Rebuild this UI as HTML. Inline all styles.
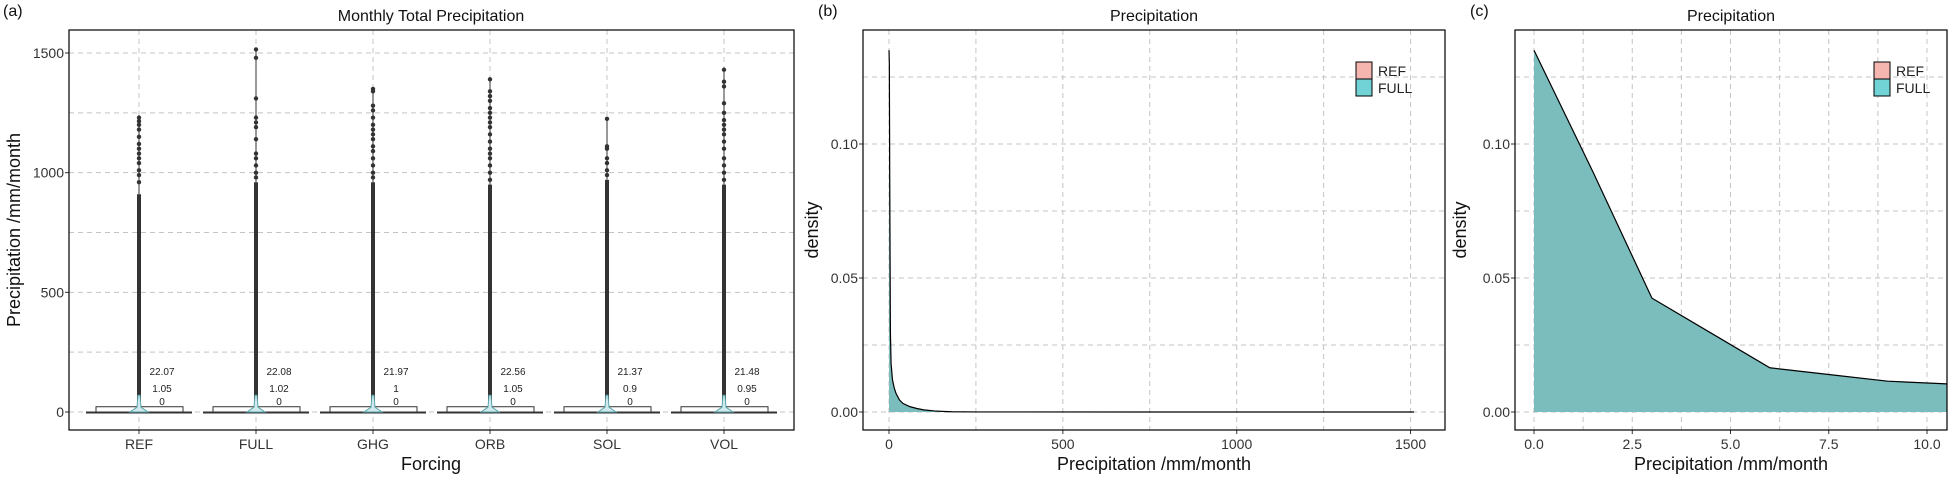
<!DOCTYPE html>
<html><head><meta charset="utf-8"><style>
html,body{margin:0;padding:0;background:#fff;}
svg{display:block;font-family:"Liberation Sans",sans-serif;}
</style></head><body>
<svg id="s" width="1950" height="480" viewBox="0 0 1950 480" xmlns="http://www.w3.org/2000/svg"></svg>
<script>
// ---- Panel (a) data ----
const forcings = ["REF","FULL","GHG","ORB","SOL","VOL"];
const meanVals = ["22.07","22.08","21.97","22.56","21.37","21.48"];
const medianVals = ["1.05","1.02","1","1.05","0.9","0.95"];
const minVals = ["0","0","0","0","0","0"];
const q3Vals = [22,22,22,22,22,22];
const denseTop = [910,960,960,950,970,950];
const outlierMax = [1230,1515,1350,1390,1225,1430];
const outliersREF = [960,990,1010,1040,1060,1080,1100,1120,1150,1180,1200,1215,1230];
const outliersFULL = [980,1000,1030,1060,1080,1140,1190,1210,1230,1310,1480,1515];
const outliersGHG = [980,1000,1030,1060,1090,1110,1140,1160,1180,1200,1230,1260,1280,1340,1350];
const outliersORB = [970,1000,1030,1060,1080,1100,1130,1160,1190,1210,1230,1250,1270,1300,1320,1340,1390];
const outliersSOL = [990,1010,1040,1060,1100,1110,1225];
const outliersVOL = [970,1000,1030,1060,1100,1130,1160,1180,1200,1220,1250,1290,1360,1380,1430];
const aTicks = [0,500,1000,1500];
// ---- Panel (b) data ----
const bX = [0,1,2,4,6,10,15,20,30,40,60,80,100,130,160,180,250,1510];
const bY = [0.135,0.13,0.09,0.03,0.018,0.012,0.009,0.007,0.0045,0.0032,0.002,0.0013,0.0008,0.0004,0.0002,0.0001,0.00002,0];
const bXTicks = [0,500,1000,1500];
const densTicks = [0,0.05,0.10];
const densTickLabels = ["0.00","0.05","0.10"];
// ---- Panel (c) data ----
const cX = [0,1.5,3,4.5,6,7.5,9,10.5];
const cY = [0.135,0.0896,0.0425,0.0295,0.0165,0.014,0.0115,0.0105];
const cXTicks = [0,2.5,5,7.5,10];
const cXTickLabels = ["0.0","2.5","5.0","7.5","10.0"];
const legendLabels = ["REF","FULL"];
const legendColors = ["#f4b6ae","#71d3d6"];

const NS="http://www.w3.org/2000/svg";
const svg=document.getElementById('s');
function el(tag,attrs,parent,text){const e=document.createElementNS(NS,tag);for(const k in attrs)e.setAttribute(k,attrs[k]);if(text!==undefined)e.textContent=text;(parent||svg).appendChild(e);return e;}
const GRID="#c4c4c4";

// ===== Panel A =====
const A={l:69,r:794,t:30,b:430};
const ay=v=>412-v*(359/1500);
const ax=i=>139+i*117;
const gA=el('g',{});


[0,250,500,750,1000,1250,1500].forEach(v=>{const l=el('line',{x1:A.l,x2:A.r,y1:ay(v),y2:ay(v),stroke:GRID,'stroke-dasharray':'5,4','stroke-width':1},gA);});
forcings.forEach((f,i)=>{const l=el('line',{x1:ax(i),x2:ax(i),y1:A.t,y2:A.b,stroke:GRID,'stroke-dasharray':'5,4'},gA);});
const outs=[outliersREF,outliersFULL,outliersGHG,outliersORB,outliersSOL,outliersVOL];
forcings.forEach((f,i)=>{
  const x=ax(i);
  const g=el('g',{},gA);
  
  
  el('line',{x1:x-53,x2:x+53,y1:ay(0)+0.5,y2:ay(0)+0.5,stroke:'#333','stroke-width':2},g);
  el('rect',{x:x-43,y:ay(q3Vals[i]),width:87,height:ay(0)-ay(q3Vals[i]),fill:'#fff',stroke:'#333','stroke-width':1},g);
  el('line',{x1:x,x2:x,y1:ay(0),y2:ay(denseTop[i]),stroke:'#333','stroke-width':4},g);
  el('line',{x1:x,x2:x,y1:ay(denseTop[i]),y2:ay(outlierMax[i]),stroke:'#333','stroke-width':1},g);
  outs[i].forEach(v=>{const c=el('circle',{cx:x,cy:ay(v),r:2.2,fill:'#333'},g);});
  const vio=el('path',{d:`M${x-1},${ay(70)} L${x+1},${ay(70)} L${x+2},${ay(20)} L${x+9},${ay(0)} L${x-9},${ay(0)} L${x-2},${ay(20)} Z`,fill:'#cfe9ec',stroke:'#5aa6ad','stroke-width':1},g);
  
  const t1=el('text',{x:x+23,y:375,'font-size':10,'text-anchor':'middle',fill:'#222'},g,meanVals[i]);
  const t2=el('text',{x:x+23,y:392,'font-size':10,'text-anchor':'middle',fill:'#222'},g,medianVals[i]);
  const t3=el('text',{x:x+23,y:405,'font-size':10,'text-anchor':'middle',fill:'#222'},g,minVals[i]);
  const tl=el('text',{x:x,y:449,'font-size':14,'text-anchor':'middle',fill:'#333'},gA,f);
  el('line',{x1:x,x2:x,y1:A.b,y2:A.b+4,stroke:'#333'},gA);
});
aTicks.forEach(v=>{const t=el('text',{x:A.l-5,y:ay(v)+5,'font-size':14,'text-anchor':'end',fill:'#333'},gA,String(v));el('line',{x1:A.l-4,x2:A.l,y1:ay(v),y2:ay(v),stroke:'#333'},gA);});
el('rect',{x:A.l,y:A.t,width:A.r-A.l,height:A.b-A.t,fill:'none',stroke:'#000','stroke-width':1.2},gA);
let t=el('text',{x:431,y:21,'font-size':16,'text-anchor':'middle',fill:'#111'},gA,'Monthly Total Precipitation');
t=el('text',{x:431,y:470,'font-size':18,'text-anchor':'middle',fill:'#111'},gA,'Forcing');
t=el('text',{x:20,y:230,'font-size':18,'text-anchor':'middle',fill:'#111',transform:'rotate(-90 20 230)'},gA,'Precipitation /mm/month');
t=el('text',{x:3,y:16,'font-size':16,fill:'#111'},gA,'(a)');

// ===== density panel helper =====
function densPanel(P,xs,xTicks,xLbls,minorX,xVals,yVals,name,title,lblX,ylabX){
  const g=el('g',{});
  
  
  const y=v=>412-v*2680;
  [0,0.025,0.05,0.075,0.1,0.125].forEach(v=>{const l=el('line',{x1:P.l,x2:P.r,y1:y(v),y2:y(v),stroke:GRID,'stroke-dasharray':'5,4'},g);});
  minorX.concat(xTicks).forEach(v=>{const l=el('line',{x1:xs(v),x2:xs(v),y1:P.t,y2:P.b,stroke:GRID,'stroke-dasharray':'5,4'},g);});
  let d=`M${xs(xVals[0])},${y(0)}`;xVals.forEach((v,i)=>d+=` L${xs(v)},${y(yVals[i])}`);d+=` L${xs(xVals[xVals.length-1])},${y(0)} Z`;
  const cp=el('clipPath',{id:'cp'+name},g);el('rect',{x:P.l,y:P.t,width:P.r-P.l,height:P.b-P.t},cp);
  const a=el('path',{d:d,fill:'#7bbcbc',stroke:'none','clip-path':`url(#cp${name})`},g);
  let ld=`M${xs(xVals[0])},${y(yVals[0])}`;xVals.forEach((v,i)=>ld+=` L${xs(v)},${y(yVals[i])}`);
  const ln=el('path',{d:ld,fill:'none',stroke:'#000','stroke-width':1.2,'clip-path':`url(#cp${name})`},g);
  densTicks.forEach((v,i)=>{const tt=el('text',{x:P.l-5,y:y(v)+5,'font-size':14,'text-anchor':'end',fill:'#333'},g,densTickLabels[i]);el('line',{x1:P.l-4,x2:P.l,y1:y(v),y2:y(v),stroke:'#333'},g);});
  xTicks.forEach((v,i)=>{const tt=el('text',{x:xs(v),y:449,'font-size':14,'text-anchor':'middle',fill:'#333'},g,xLbls[i]);el('line',{x1:xs(v),x2:xs(v),y1:P.b,y2:P.b+4,stroke:'#333'},g);});
  el('rect',{x:P.l,y:P.t,width:P.r-P.l,height:P.b-P.t,fill:'none',stroke:'#000','stroke-width':1.2},g);
  const cx=(P.l+P.r)/2;
  let tt=el('text',{x:cx,y:21,'font-size':16,'text-anchor':'middle',fill:'#111'},g,'Precipitation');
  tt=el('text',{x:cx,y:470,'font-size':18,'text-anchor':'middle',fill:'#111'},g,'Precipitation /mm/month');
  tt=el('text',{x:ylabX,y:230,'font-size':18,'text-anchor':'middle',fill:'#111',transform:`rotate(-90 ${ylabX} 230)`},g,'density');
  tt=el('text',{x:P.l-45,y:16,'font-size':16,fill:'#111'},g,title);
  legendLabels.forEach((lb,i)=>{
    const r=el('rect',{x:lblX,y:62+i*17,width:16,height:17,fill:legendColors[i],stroke:'#000','stroke-width':1},g);
    
    const lt=el('text',{x:lblX+22,y:76+i*17,'font-size':14,fill:'#222'},g,lb);
    
  });
}
const B={l:863,r:1445,t:30,b:430};
densPanel(B,v=>889+v*0.3477,bXTicks,bXTicks.map(String),[250,750,1250],bX,bY,'panel-b','(b)',1356,818);
const C={l:1515,r:1947,t:30,b:430};
densPanel(C,v=>1534+v*39.3,cXTicks,cXTickLabels,[1.25,3.75,6.25,8.75],cX,cY,'panel-c','(c)',1874,1466);
</script>
</body></html>
